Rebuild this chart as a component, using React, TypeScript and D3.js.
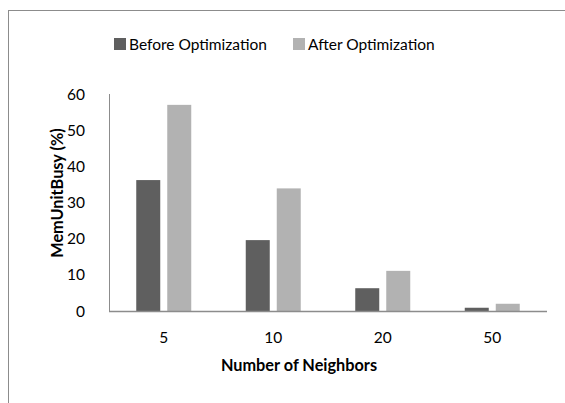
import React from "react";
import * as d3 from "d3";

const categories = ["5", "10", "20", "50"];
const seriesNames = ["Before Optimization", "After Optimization"];
const beforeValues = [36.2, 19.6, 6.3, 0.9];
const afterValues = [57.0, 33.9, 11.1, 2.0];
const yTicks = [0, 10, 20, 30, 40, 50, 60];
const colors = ["#5f5f5f", "#b2b2b2"];

const W = 565;
const H = 403;
const FONT = "Lato, 'Open Sans', sans-serif";
const FS = 15.5;
const FSB = 16.3;

export default function App() {
  const left = 109, right = 547, top = 94, bottom = 311;
  const x = d3.scaleBand<string>().domain(categories).range([left, right]).paddingInner(0).paddingOuter(0);
  const y = d3.scaleLinear().domain([0, 60]).range([bottom, top]);
  const barW = 24, gap = 7;
  const series = [beforeValues, afterValues];

  return (
    <svg width={W} height={H} style={{ position: "absolute", left: 0, top: 0 }} fontFamily={FONT}>
      <rect x={0} y={0} width={W} height={H} fill="#fff" />
      <rect x={8.5} y={10.5} width={W} height={H} fill="none" stroke="#8c8c8c" strokeWidth={1} />
      {seriesNames.map((n, i) => {
        const lx = i === 0 ? 114 : 293;
        return (
          <g key={n}>
            <rect x={lx} y={38} width={12} height={12} fill={colors[i]} />
            <text x={lx + 15} y={49.5} fontSize={FS} fill="#000">{n}</text>
          </g>
        );
      })}
      {yTicks.map((t) => (
        <text key={t} x={85} y={y(t) + 5.5} fontSize={FS} textAnchor="end" fill="#000">{t}</text>
      ))}
      {categories.map((c, ci) => {
        const cx = (x(c) as number) + x.bandwidth() / 2;
        return series.map((s, si) => {
          const bx = si === 0 ? cx - gap / 2 - barW : cx + gap / 2;
          return (
            <rect key={c + si} x={bx} y={y(s[ci])} width={barW} height={bottom - y(s[ci])} fill={colors[si]} />
          );
        });
      })}
      <line x1={left + 0.5} x2={left + 0.5} y1={top} y2={bottom} stroke="#8c8c8c" strokeWidth={1} />
      <line x1={left} x2={right} y1={bottom + 0.5} y2={bottom + 0.5} stroke="#8c8c8c" strokeWidth={1.5} />
      {categories.map((c) => (
        <text key={c} x={(x(c) as number) + x.bandwidth() / 2} y={343} fontSize={FS} textAnchor="middle" fill="#000">{c}</text>
      ))}
      <text x={299} y={371} fontSize={FSB} fontWeight="bold" textAnchor="middle" fill="#000">Number of Neighbors</text>
      <text transform={`translate(63,193) rotate(-90)`} fontSize={FSB} fontWeight="bold" textAnchor="middle" fill="#000">MemUnitBusy (%)</text>
    </svg>
  );
}
